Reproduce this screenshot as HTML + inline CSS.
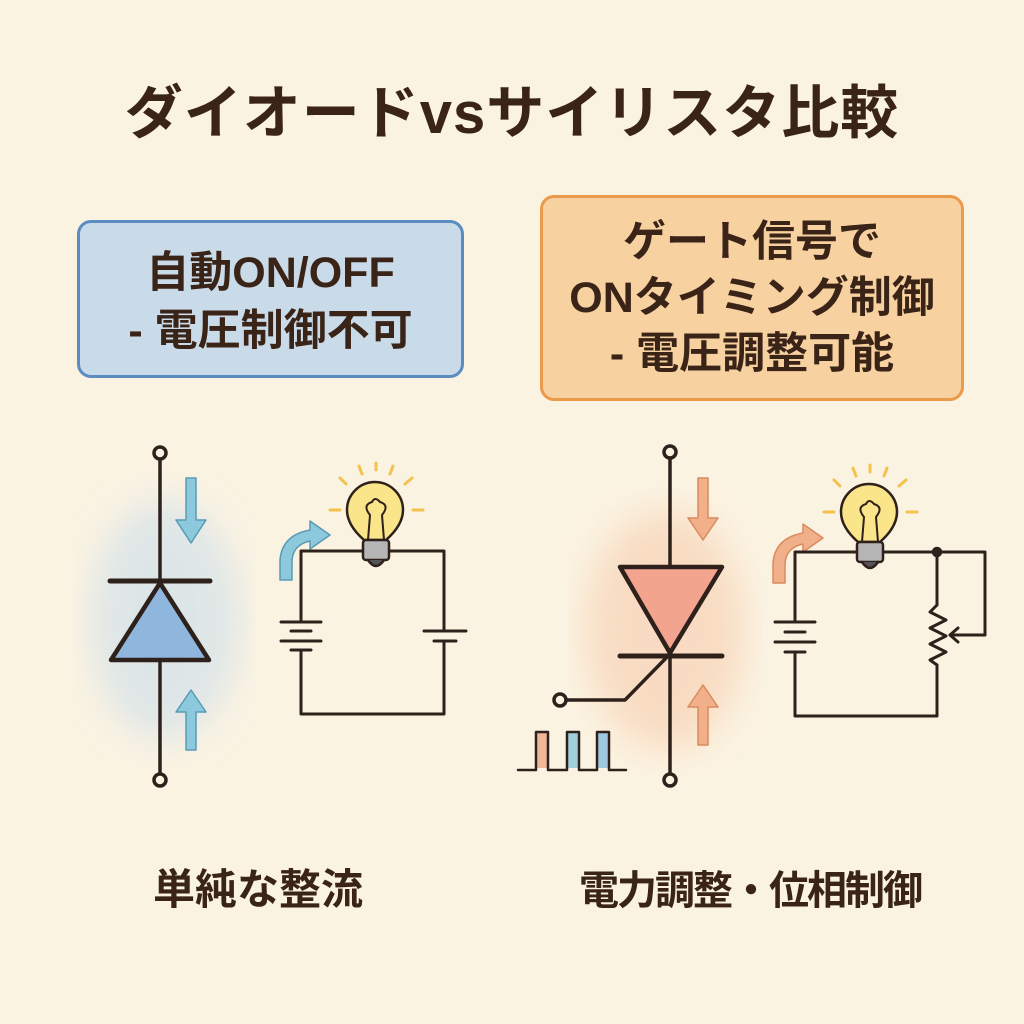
<!DOCTYPE html><html><head><meta charset="utf-8"><style>
body{margin:0;width:1024px;height:1024px;background:#fbf3e2;overflow:hidden;font-family:"Liberation Sans","Noto Sans CJK JP",sans-serif;color:#3a2418}
.t{position:absolute;white-space:nowrap;font-weight:bold;text-align:center}
</style></head><body>
<div class="t" style="left:0;width:1024px;top:66px;font-size:58px;letter-spacing:1px">ダイオードvsサイリスタ比較</div>
<div style="position:absolute;left:77px;top:220px;width:381px;height:152px;background:#c9dbe9;border:3px solid #5b8cc0;border-radius:14px"></div>
<div class="t" style="left:77px;width:387px;top:244px;font-size:43px;line-height:58px">自動ON/OFF<br>- 電圧制御不可</div>
<div style="position:absolute;left:540px;top:195px;width:418px;height:200px;background:#f8d1a0;border:3px solid #eb9a4c;border-radius:14px"></div>
<div class="t" style="left:540px;width:424px;top:214px;font-size:43px;line-height:56px">ゲート信号で<br>ONタイミング制御<br>- 電圧調整可能</div>
<div class="t" style="left:100px;width:316px;top:856px;font-size:42px">単純な整流</div>
<div class="t" style="left:540px;width:420px;top:858px;font-size:40px;letter-spacing:-2px">電力調整・位相制御</div>
<svg width="1024" height="1024" style="position:absolute;left:0;top:0" fill="none" stroke="#2e201a" stroke-width="3.5" stroke-linecap="round" stroke-linejoin="round">
<defs><filter id="bl"><feGaussianBlur stdDeviation="18"/></filter></defs>
<ellipse cx="165" cy="620" rx="75" ry="120" fill="#c6dcec" stroke="none" opacity=".55" filter="url(#bl)"/>
<ellipse cx="665" cy="630" rx="80" ry="120" fill="#f6c9a8" stroke="none" opacity=".55" filter="url(#bl)"/>
<!-- diode -->
<line x1="160" y1="459" x2="160" y2="774"/>
<circle cx="160" cy="453" r="6" fill="#fbf3e2"/><circle cx="160" cy="780" r="6" fill="#fbf3e2"/>
<line x1="110" y1="581" x2="210" y2="581" stroke-width="5"/>
<polygon points="160,583 111,660 209,660" fill="#8fb6dc" stroke-width="4.5"/>
<g fill="#8cc9dc" stroke="#5a9ab5" stroke-width="1.5">
<polygon points="186,478 196,478 196,520 206,520 191,543 176,520 186,520"/>
<polygon points="186,750 196,750 196,712 206,712 191,690 176,712 186,712"/>
<path d="M180,585 L180,565 Q182,540 210,535 L210,526 L230,540 L210,554 L210,546 Q192,550 192,567 L192,585 Z" transform="translate(100,-5)"/>
</g>
<!-- circuit left -->
<polyline points="301,622 301,551 444,551 444,631" stroke-width="3"/>
<polyline points="301,650 301,714 444,714 444,641" stroke-width="3"/>
<g stroke-width="3"><line x1="281" y1="622" x2="321" y2="622"/><line x1="291" y1="631" x2="311" y2="631"/><line x1="281" y1="641" x2="321" y2="641"/><line x1="291" y1="650" x2="311" y2="650"/>
<line x1="424" y1="631" x2="466" y2="631"/><line x1="434" y1="641" x2="456" y2="641"/></g>
<!-- thyristor -->
<line x1="670" y1="459" x2="670" y2="774"/>
<circle cx="670" cy="452" r="6" fill="#fbf3e2"/><circle cx="670" cy="780" r="6" fill="#fbf3e2"/>
<polygon points="620,567 722,567 670,653" fill="#f3a48e" stroke-width="4.5"/>
<line x1="620" y1="656" x2="722" y2="656" stroke-width="5"/>
<polyline points="668,656 625,700 567,700"/>
<circle cx="560" cy="700" r="6" fill="#fbf3e2"/>
<rect x="536" y="732" width="12" height="36" fill="#f0b89a" stroke="none"/>
<rect x="567" y="732" width="12" height="36" fill="#9fd0dc" stroke="none"/>
<rect x="597" y="732" width="12" height="36" fill="#9fc8e0" stroke="none"/>
<polyline points="518,770 536,770 536,732 548,732 548,770 567,770 567,732 579,732 579,770 597,770 597,732 609,732 609,770 626,770" stroke-width="2.5"/>
<g fill="#f2b08a" stroke="#d98a5e" stroke-width="1.5">
<polygon points="698,478 708,478 708,518 718,518 703,540 688,518 698,518"/>
<polygon points="698,745 708,745 708,707 718,707 703,685 688,707 698,707"/>
<path d="M180,585 L180,565 Q182,540 210,535 L210,526 L230,540 L210,554 L210,546 Q192,550 192,567 L192,585 Z" transform="translate(593,-2)"/>
</g>
<!-- circuit right -->
<polyline points="795,622 795,552 937,552 937,605" stroke-width="3"/>
<polyline points="795,652 795,716 937,716 937,665" stroke-width="3"/>
<polyline points="937,605 930,612 946,620 930,628 946,636 930,644 946,652 930,660 937,665" stroke-width="3"/>
<polyline points="937,552 985,552 985,635 950,635" stroke-width="3"/>
<polyline points="958,628 950,635 958,642" stroke-width="3"/>
<circle cx="937" cy="552" r="3.5" fill="#2e201a"/>
<g stroke-width="3"><line x1="775" y1="622" x2="815" y2="622"/><line x1="785" y1="632" x2="805" y2="632"/><line x1="775" y1="642" x2="815" y2="642"/><line x1="785" y1="652" x2="805" y2="652"/></g>
<!-- bulbs -->
<g id="b" stroke-width="2.5">
<path d="M364,540 Q347,525 347,510 A28,28 0 1 1 403,510 Q403,525 386,540 Z" fill="#fbe58a"/>
<path d="M368,540 L370,515 Q362,505 372,502 Q375,496 380,502 Q390,505 382,515 L384,540" stroke-width="2"/>
<rect x="363" y="540" width="26" height="20" rx="3" fill="#b5b5b5"/>
<path d="M368,560 Q376,572 384,560" fill="#555"/>
<g stroke="#f2c24a" stroke-width="3"><line x1="340" y1="510" x2="330" y2="510"/><line x1="413" y1="510" x2="423" y2="510"/><line x1="346" y1="484" x2="340" y2="478"/><line x1="405" y1="484" x2="412" y2="478"/><line x1="362" y1="474" x2="359" y2="466"/><line x1="390" y1="474" x2="393" y2="466"/><line x1="376" y1="470" x2="376" y2="463"/></g>
</g>
<use href="#b" transform="translate(494,2)"/>
</svg>
</body></html>
